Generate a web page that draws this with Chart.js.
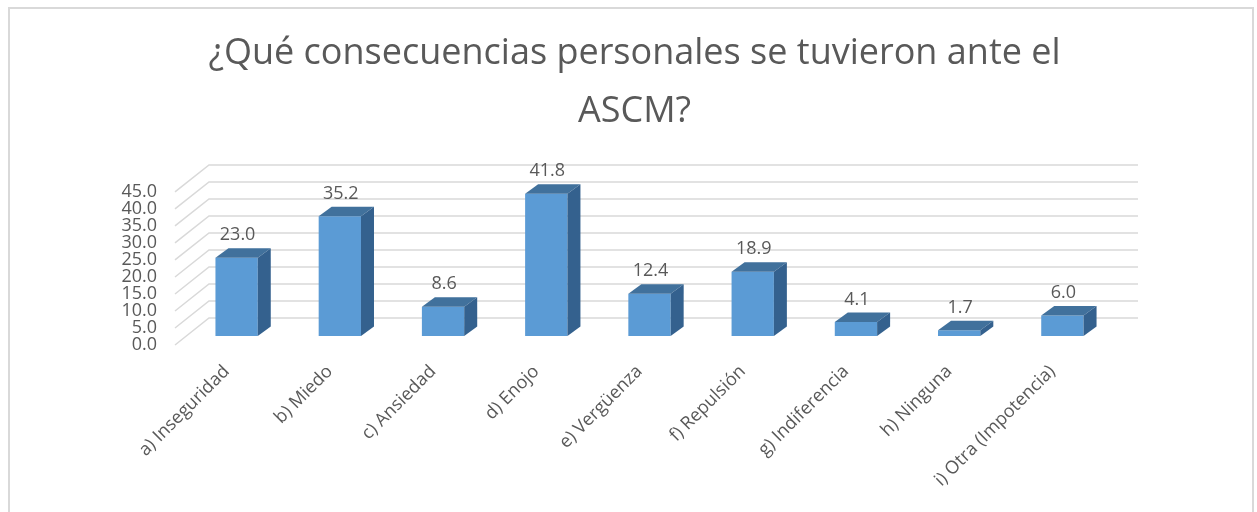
<!DOCTYPE html>
<html>
<head>
<meta charset="utf-8">
<script src="https://cdn.jsdelivr.net/npm/chart.js@4.4.0/dist/chart.umd.min.js"></script>
<style>
  body { margin: 0; background: #fff; }
  #wrap { position: relative; width: 1257px; height: 512px; }
  #frame { position: absolute; left: 8px; top: 7px; width: 1246px; height: 530px; border: 2px solid #d9d9d9; box-sizing: border-box; pointer-events: none; }
</style>
</head>
<body>
<div id="wrap"><canvas id="myChart"></canvas><div id="frame"></div></div>
<script>
const labels = ['a) Inseguridad', 'b) Miedo', 'c) Ansiedad', 'd) Enojo', 'e) Vergüenza', 'f) Repulsión', 'g) Indiferencia', 'h) Ninguna', 'i) Otra (Impotencia)'];
const values = [23.0, 35.2, 8.6, 41.8, 12.4, 18.9, 4.1, 1.7, 6.0];
const yTicks = [0, 5, 10, 15, 20, 25, 30, 35, 40, 45];

const textColor = '#595959';
// fake 3d offsets (px)
const wallX = 34, wallY = -27;
const barX = 10, barY = -9;
const sideX = 13, sideY = -9.5;

const bars3d = {
  id: 'bars3d',
  beforeDatasetsDraw(chart) {
    const { ctx, chartArea: a, scales: { y } } = chart;
    ctx.save();
    ctx.strokeStyle = '#d9d9d9';
    ctx.lineWidth = 1.5;
    yTicks.forEach(v => {
      const py = y.getPixelForValue(v);
      ctx.beginPath();
      ctx.moveTo(a.left, py);
      ctx.lineTo(a.left + wallX, py + wallY);
      ctx.lineTo(a.right + wallX, py + wallY);
      ctx.stroke();
    });
    ctx.restore();
    // front faces are drawn by chart.js, shifted into the depth
    ctx.save();
    ctx.translate(barX, barY);
  },
  afterDatasetsDraw(chart) {
    const ctx = chart.ctx;
    ctx.restore();
    const meta = chart.getDatasetMeta(0);
    ctx.save();
    meta.data.forEach((bar, i) => {
      const l = bar.x - bar.width / 2 + barX;
      const r = bar.x + bar.width / 2 + barX;
      const t = bar.y + barY;
      const b = bar.base + barY;
      ctx.fillStyle = '#41719c';
      ctx.beginPath();
      ctx.moveTo(l, t);
      ctx.lineTo(r, t);
      ctx.lineTo(r + sideX, t + sideY);
      ctx.lineTo(l + sideX, t + sideY);
      ctx.closePath();
      ctx.fill();
      ctx.fillStyle = '#34618e';
      ctx.beginPath();
      ctx.moveTo(r, t);
      ctx.lineTo(r + sideX, t + sideY);
      ctx.lineTo(r + sideX, b + sideY);
      ctx.lineTo(r, b);
      ctx.closePath();
      ctx.fill();

      ctx.fillStyle = textColor;
      ctx.font = '18px "Open Sans"';
      ctx.textAlign = 'center';
      ctx.textBaseline = 'middle';
      ctx.fillText(values[i].toFixed(1), bar.x + barX + 1, t + sideY - 13);
    });
    ctx.restore();
  }
};

const ctx = document.getElementById('myChart').getContext('2d');
const myChart = new Chart(ctx, {
  type: 'bar',
  data: {
    labels: labels,
    datasets: [{
      data: values,
      backgroundColor: '#5b9bd5',
      borderWidth: 0,
      categoryPercentage: 1,
      barPercentage: 0.41
    }]
  },
  options: {
    responsive: true,
    maintainAspectRatio: false,
    animation: false,
    layout: { padding: { left: 12 } },
    plugins: {
      legend: { display: false },
      tooltip: { enabled: false },
      title: {
        display: true,
        text: ['¿Qué consecuencias personales se tuvieron ante el', 'ASCM?'],
        color: textColor,
        font: { family: 'Open Sans', size: 36, weight: 'normal', lineHeight: 1.61 },
        padding: { top: 25, bottom: 51 }
      }
    },
    scales: {
      x: {
        grid: { display: false, drawTicks: false },
        border: { display: false },
        ticks: {
          color: textColor,
          font: { family: 'Open Sans', size: 18 },
          maxRotation: 45,
          minRotation: 45,
          padding: 16
        },
        afterFit(scale) { scale.height = 167; }
      },
      y: {
        min: 0,
        max: 45,
        grid: { display: false, drawTicks: false },
        border: { display: false },
        ticks: {
          stepSize: 5,
          autoSkip: false,
          color: textColor,
          font: { family: 'Open Sans', size: 18 },
          padding: 18,
          callback: v => v.toFixed(1)
        },
        afterFit(scale) { scale.width = 163; }
      },
      // empty right axis, only keeps room for the back wall
      yRight: {
        position: 'right',
        display: true,
        grid: { display: false, drawTicks: false },
        border: { display: false },
        ticks: { display: false },
        afterFit(scale) { scale.width = 153; }
      }
    }
  },
  plugins: [bars3d]
});
</script>
</body>
</html>
